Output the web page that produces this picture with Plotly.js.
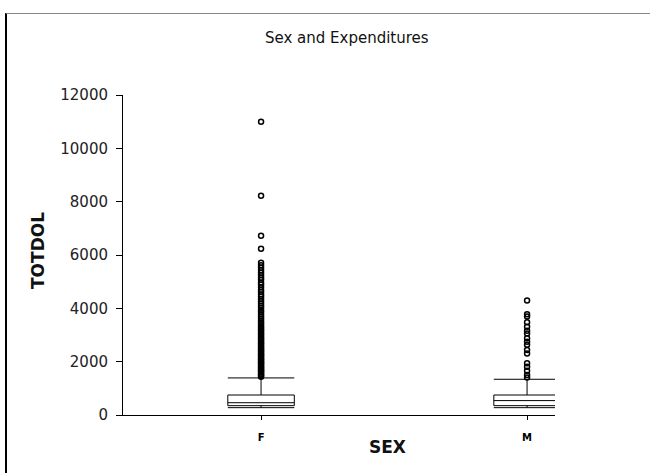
<!DOCTYPE html>
<html>
<head>
<meta charset="utf-8">
<script src="https://cdn.plot.ly/plotly-3.0.1.min.js"></script>
<style>
  html, body { margin: 0; padding: 0; background: #fff; }
  #wrap { position: relative; width: 650px; height: 473px; }
  #chart { position: absolute; left: 0; top: 0; width: 650px; height: 473px; }
  #frame { position: absolute; left: 5px; top: 13px; width: 645px; height: 460px;
           border-top: 1px solid #888; border-left: 2px solid #000; box-sizing: border-box;
           pointer-events: none; }
</style>
</head>
<body>
<div id="wrap">
  <div id="chart"></div>
  <div id="frame"></div>
</div>
<script>
// ---- data ----
const sexCategories = ['F', 'M'];
const q1Values = [350, 350];
const medianValues = [460, 540];
const q3Values = [750, 750];
const lowerWhisker = [275, 275];
const upperWhisker = [1390, 1340];

const femaleOutliers = [11000, 8220, 6720, 6230, 5710, 5620, 5520, 5430, 5330, 5240, 5150, 5070,
  4960, 4880, 4790, 4690, 4610, 4520, 4440, 4350, 4270, 4180, 4100, 4020, 3930, 3860, 3780,
  3690, 3620, 3540, 3470, 3400, 3330, 3270, 3210, 3160, 3090, 3040, 2980, 2920, 2870, 2810,
  2760, 2700, 2660, 2600, 2550, 2500, 2450, 2410, 2360, 2310, 2270, 2220, 2180, 2130, 2090,
  2050, 2000, 1960, 1920, 1880, 1830, 1790, 1750, 1710, 1670, 1630, 1590, 1550, 1510, 1470, 1430];
const maleOutliers = [4290, 3780, 3690, 3480, 3310, 3160, 3060, 2880, 2750, 2630, 2440,
  2310, 1940, 1810, 1660, 1500, 1410];

const yTicks = [0, 2000, 4000, 6000, 8000, 10000, 12000];

// ---- traces ----
const boxTrace = {
  type: 'box',
  x: sexCategories,
  q1: q1Values,
  median: medianValues,
  q3: q3Values,
  lowerfence: lowerWhisker,
  upperfence: upperWhisker,
  boxpoints: false,
  width: 0.25,
  whiskerwidth: 1,
  fillcolor: '#ffffff',
  line: { color: '#000000', width: 1 },
  hoverinfo: 'skip',
  showlegend: false
};

function outlierTrace(cat, vals) {
  return {
    type: 'scatter',
    mode: 'markers',
    x: vals.map(() => cat),
    y: vals,
    marker: { symbol: 'circle-open', size: 5, color: '#000000', line: { color: '#000000', width: 1.5 } },
    hoverinfo: 'skip',
    showlegend: false,
    cliponaxis: false
  };
}

const data = [
  outlierTrace('F', femaleOutliers),
  outlierTrace('M', maleOutliers),
  boxTrace
];

const layout = {
  width: 650,
  height: 473,
  margin: { l: 123, r: 95, t: 95, b: 58 },
  paper_bgcolor: '#ffffff',
  plot_bgcolor: '#ffffff',
  showlegend: false,
  title: {
    text: 'Sex and Expenditures',
    font: { family: 'DejaVu Sans', size: 15, color: '#111' },
    x: 0.518, xref: 'paper', xanchor: 'center',
    y: 1 - 38 / 473, yref: 'container', yanchor: 'middle'
  },
  xaxis: {
    type: 'category',
    categoryarray: sexCategories,
    range: [-0.519, 1.105],
    showline: true, linecolor: '#000', linewidth: 1,
    ticks: 'outside', ticklen: 4, tickcolor: '#000', tickwidth: 1,
    ticklabelstandoff: 9,
    tickfont: { family: 'DejaVu Sans', size: 10, color: '#000', weight: 'bold' },
    showgrid: false, zeroline: false, fixedrange: true
  },
  yaxis: {
    range: [0, 12000],
    tickvals: yTicks,
    ticktext: yTicks.map(String),
    showline: true, linecolor: '#000', linewidth: 1,
    ticks: 'outside', ticklen: 6, tickcolor: '#000', tickwidth: 1,
    ticklabelstandoff: 5,
    tickfont: { family: 'DejaVu Sans', size: 15, color: '#222' },
    showgrid: false, zeroline: false, fixedrange: true
  },
  annotations: [
    { text: '<b>TOTDOL</b>', textangle: -90, xref: 'paper', yref: 'paper',
      x: (38 - 123) / 432, y: (415 - 251) / 320, xanchor: 'center', yanchor: 'middle',
      showarrow: false, font: { family: 'DejaVu Sans', size: 17, color: '#111' } },
    { text: '<b>SEX</b>', xref: 'paper', yref: 'paper',
      x: (387 - 123) / 432, y: -(447 - 415) / 320, xanchor: 'center', yanchor: 'middle',
      showarrow: false, font: { family: 'DejaVu Sans', size: 17, color: '#111' } }
  ]
};

Plotly.newPlot('chart', data, layout, { displayModeBar: false, staticPlot: true });
</script>
</body>
</html>
